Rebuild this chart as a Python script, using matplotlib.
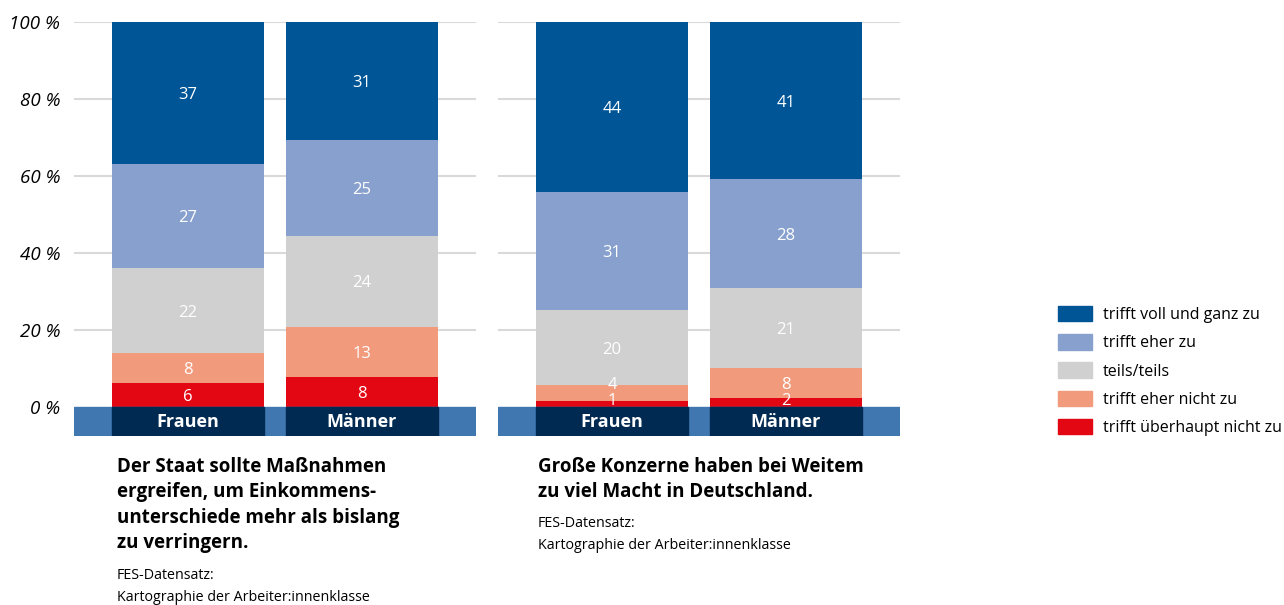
import matplotlib.pyplot as plt
from matplotlib.patches import Patch, Rectangle

plt.rcParams['font.family'] = ['Open Sans', 'DejaVu Sans']

# Daten (Anteile in %, von unten nach oben)
categories = ['trifft überhaupt nicht zu', 'trifft eher nicht zu', 'teils/teils',
              'trifft eher zu', 'trifft voll und ganz zu']
colors = ['#e30613', '#f19a7c', '#d0d0d0', '#87a0cd', '#005596']
groups = ['Frauen', 'Männer']

staat_frauen = [6.2, 7.8, 22.1, 27.0, 36.9]
staat_maenner = [7.9, 12.9, 23.6, 25.0, 30.6]
staat_labels_frauen = [6, 8, 22, 27, 37]
staat_labels_maenner = [8, 13, 24, 25, 31]

konzerne_frauen = [1.5, 4.2, 19.5, 30.6, 44.2]
konzerne_maenner = [2.3, 7.8, 20.8, 28.3, 40.8]
konzerne_labels_frauen = [1, 4, 20, 31, 44]
konzerne_labels_maenner = [2, 8, 21, 28, 41]

yticks = [0, 20, 40, 60, 80, 100]
ytick_labels = ['0 %', '20 %', '40 %', '60 %', '80 %', '100 %']

title_staat = ('Der Staat sollte Maßnahmen\nergreifen, um Einkommens-\n'
               'unterschiede mehr als bislang\nzu verringern.')
title_konzerne = 'Große Konzerne haben bei Weitem\nzu viel Macht in Deutschland.'
source = 'FES-Datensatz:\nKartographie der Arbeiter:innenklasse'

W, H = 1284, 605
fig = plt.figure(figsize=(W / 100, H / 100), dpi=100)

band_bottom = -7.53
xmin, xmax = -0.655, 1.655
bar_w = 0.874


def draw_panel(left_px, shares, labels, show_yticks):
    ax = fig.add_axes([left_px / W, (H - 436) / H, 402 / W, (436 - 22) / H])
    ax.set_xlim(xmin, xmax)
    ax.set_ylim(band_bottom, 100)
    for y in yticks[1:]:
        ax.axhline(y, color='#d9d9d9', lw=1.5, zorder=0)
    for i, (vals, labs) in enumerate(zip(shares, labels)):
        bottom = 0
        prev = -10
        for v, lab, c in zip(vals, labs, colors):
            ax.bar(i, v, bottom=bottom, width=bar_w, color=c, zorder=2)
            # kleine Segmente: Beschriftung etwas nach oben schieben
            ty = max(bottom + v / 2, prev + 4.3, 2.0)
            ax.text(i, ty, str(lab), color='white', fontsize=12,
                    ha='center', va='center_baseline', zorder=3)
            prev = ty
            bottom += v
    # blaues Band mit Gruppennamen
    ax.add_patch(Rectangle((xmin, band_bottom), xmax - xmin, -band_bottom,
                           color='#4077b0', zorder=2))
    for i, g in enumerate(groups):
        ax.add_patch(Rectangle((i - bar_w / 2, band_bottom), bar_w, -band_bottom,
                               color='#002a52', zorder=3))
        ax.text(i, band_bottom / 2, g, color='white', fontsize=13, fontweight='bold',
                ha='center', va='center', zorder=4)
    for s in ax.spines.values():
        s.set_visible(False)
    ax.set_xticks([])
    ax.set_yticks(yticks)
    if show_yticks:
        ax.set_yticklabels(ytick_labels, fontsize=13.5, style='italic')
        ax.tick_params(axis='y', length=0, pad=10)
    else:
        ax.set_yticklabels([])
        ax.tick_params(axis='y', length=0)
    return ax


draw_panel(74, [staat_frauen, staat_maenner],
           [staat_labels_frauen, staat_labels_maenner], True)
draw_panel(498, [konzerne_frauen, konzerne_maenner],
           [konzerne_labels_frauen, konzerne_labels_maenner], False)

# Titel und Quelle
fig.text(117 / W, 1 - 457 / H, title_staat, fontsize=13.5, fontweight='bold',
         va='top', ha='left', linespacing=1.36)
fig.text(117 / W, 1 - 568 / H, source, fontsize=10.3, va='top', ha='left',
         linespacing=1.6)
fig.text(538 / W, 1 - 457 / H, title_konzerne, fontsize=13.5, fontweight='bold',
         va='top', ha='left', linespacing=1.36)
fig.text(538 / W, 1 - 516 / H, source, fontsize=10.3, va='top', ha='left',
         linespacing=1.6)

# Legende
handles = [Patch(color=c, label=l) for c, l in zip(colors[::-1], categories[::-1])]
fig.legend(handles=handles, loc='center left', bbox_to_anchor=(1052 / W, 1 - 371 / H),
           frameon=False, fontsize=11.5, handlelength=2.1, handleheight=1.1,
           handletextpad=0.7, labelspacing=0.7, borderaxespad=0)

fig.savefig('out.png', dpi=100)
